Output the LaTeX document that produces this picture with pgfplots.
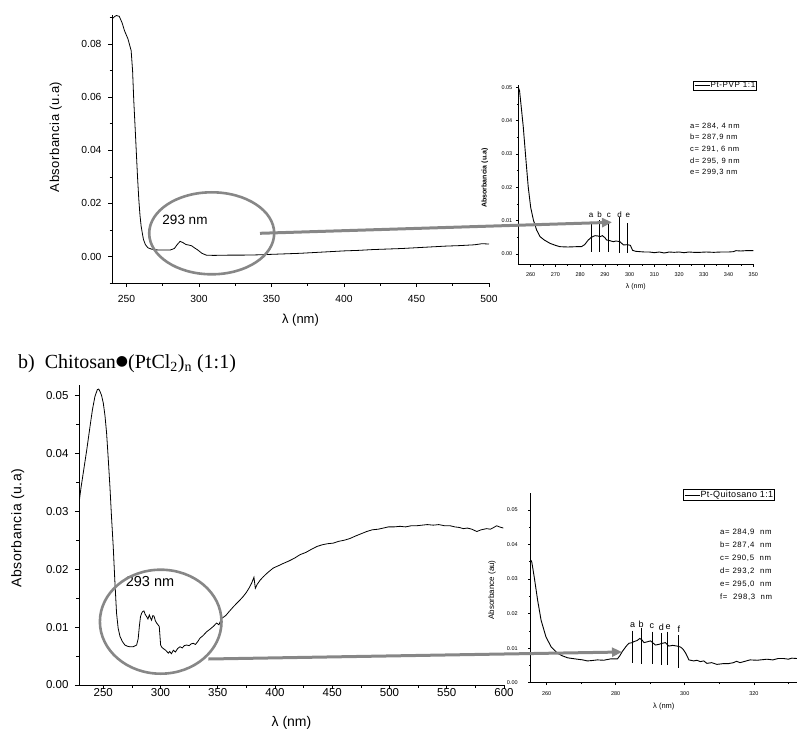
\documentclass[border=0pt]{standalone}
\usepackage{fontspec}
\setmainfont{Liberation Sans}
\newfontfamily\spaced[LetterSpace=4]{Liberation Sans}
\newfontfamily\wide[LetterSpace=8]{Liberation Sans}
\newfontfamily\serifft{Liberation Serif}
\newfontfamily\dejavu{DejaVu Sans}
\usepackage{pgfplots}
\pgfplotsset{compat=1.18}
\usetikzlibrary{arrows.meta}
\definecolor{annot}{RGB}{135,135,135}
\newcommand{\fs}[1]{\fontsize{#1}{#1}\selectfont}

\pgfplotstableread{
x y
240 0.0895
242 0.0905
243 0.0908
245 0.0905
247 0.0880
248.6 0.0851
251 0.0820
253.2 0.0776
254.2 0.0700
255 0.0589
256 0.0480
256.7 0.0401
257.6 0.0300
258.5 0.0214
259.3 0.0155
260.1 0.0114
261 0.0085
261.7 0.0064
263 0.0045
264.7 0.0033
267 0.0028
270 0.0025
275 0.0024
280 0.0024
283 0.0030
285 0.0045
287 0.0057
289 0.0052
291 0.0045
293 0.0043
295 0.0040
297 0.0032
299 0.0025
302 0.0012
305 0.0005
310 0.0004
320 0.0005
330 0.0005
340 0.0006
350 0.0008
360 0.0010
370 0.0012
380 0.0015
390 0.0018
400 0.0021
410 0.0023
420 0.0026
430 0.0028
440 0.0030
450 0.0033
460 0.0036
470 0.0039
480 0.0041
490 0.0044
495 0.0048
500 0.0047
}\pvpmain

\pgfplotstableread{
x y
255 0.0500
255.5 0.0490
256.2 0.0440
257.0 0.0382
258.0 0.0290
259.0 0.0202
260.0 0.0140
261.1 0.0102
262.4 0.0072
263.8 0.0052
265.5 0.0042
267.8 0.0032
270 0.0026
271.8 0.0022
275 0.0021
278.6 0.0022
280.5 0.0022
281.8 0.0028
283.3 0.0042
284.5 0.0050
286 0.0055
287.2 0.0054
288 0.0052
289 0.0055
290 0.0049
290.7 0.0042
292 0.0040
293.4 0.0037
294.5 0.0039
296.1 0.0037
297.5 0.0027
299 0.0028
300.3 0.0026
301.2 0.0011
302.5 0.0008
304.2 0.0007
306 0.0006
308 0.0006
310 0.0004
312 0.0006
314 0.0003
316 0.0006
318 0.0005
320 0.0006
322 0.0004
324 0.0006
326 0.0005
328.4 0.0005
331 0.0006
334 0.0005
337 0.0006
340 0.0006
341.9 0.0007
343 0.0010
345 0.0009
347 0.0010
350 0.0010
}\pvpinset

\pgfplotstableread{
x y
228.8 0.0314
230.5 0.0340
232.5 0.0366
235.5 0.0405
238.4 0.0446
240.5 0.0475
242.7 0.0498
244.8 0.0510
246 0.0511
247.1 0.0507
248.5 0.0500
250 0.0487
251.5 0.0465
252.9 0.0435
254.3 0.0392
255.8 0.0343
257.2 0.0290
258.7 0.0239
260.1 0.0180
261.6 0.0124
263 0.0098
264.6 0.0084
266.7 0.0075
268.9 0.0069
271 0.0067
273.3 0.0066
276 0.0066
279.1 0.0069
280.5 0.0080
281.5 0.0101
282.5 0.0118
283.5 0.0124
284.5 0.0127
285.5 0.0128
286.6 0.0122
287.9 0.0118
289 0.0114
290.2 0.0121
291.2 0.0116
292.2 0.0112
293.3 0.0120
294.3 0.0119
295.5 0.0111
296.6 0.0107
297.8 0.0104
298.9 0.0101
299.5 0.0085
300.1 0.0069
301.2 0.0065
302.4 0.0063
304.5 0.0060
306.8 0.0055
308 0.0058
309.5 0.0054
311.2 0.0060
313 0.0057
315 0.0063
317 0.0066
319 0.0064
320.8 0.0068
322.8 0.0069
325 0.0068
326.8 0.0071
328.6 0.0072
330.5 0.0070
332.5 0.0075
334.5 0.0081
337 0.0085
340.3 0.0092
343 0.0096
346 0.0101
349 0.0107
351 0.0104
353.4 0.0115
357 0.0120
360 0.0127
363.6 0.0135
366.5 0.0141
369.5 0.0147
372.3 0.0153
375 0.0160
377.5 0.0168
379.6 0.0176
381.6 0.0186
382.8 0.0167
384.5 0.0174
387 0.0181
389.8 0.0187
393 0.0193
396 0.0198
398.5 0.0202
403 0.0206
407.3 0.0210
412 0.0214
417 0.0219
421.8 0.0225
427 0.0229
431.5 0.0234
436.4 0.0239
441 0.0242
446 0.0244
450.9 0.0245
455.5 0.0248
460.5 0.0250
465.5 0.0253
470 0.0257
475 0.0261
480 0.0265
485 0.0268
490 0.0269
494.6 0.0271
499 0.0273
504 0.0273
509.2 0.0274
514 0.0273
519 0.0275
523.7 0.0275
528.5 0.0276
533 0.0277
538.3 0.0276
543 0.0277
548 0.0275
552.9 0.0275
557 0.0273
561 0.0272
564.5 0.0270
568 0.0271
572 0.0269
576.2 0.0265
580 0.0268
584.9 0.0270
588 0.0269
591 0.0272
593.6 0.0275
596 0.0273
599.4 0.0271
}\chimain

\pgfplotstableread{
x y
255.4 0.0355
255.7 0.0350
256.4 0.0307
257.4 0.0239
258.4 0.0181
259.8 0.0133
261.3 0.0104
263.2 0.0085
264.5 0.0078
266.1 0.0072
268.9 0.0068
270.5 0.0066
271.8 0.0063
273 0.0064
274.7 0.0066
276.5 0.0065
278.6 0.0069
280.5 0.0069
281.2 0.0078
281.9 0.0090
283 0.0105
283.8 0.0114
284.8 0.0116
285.3 0.0119
286.2 0.0122
287 0.0128
287.6 0.0124
288.2 0.0116
289 0.0118
290.1 0.0121
290.8 0.0115
291.5 0.0109
292.5 0.0111
293.5 0.0114
294.4 0.0116
295.4 0.0106
296.5 0.0108
297.8 0.0106
298.8 0.0103
299.5 0.0097
300.3 0.0085
301.2 0.0066
302.6 0.0063
303.5 0.0065
304.5 0.0061
305.5 0.0063
306.4 0.0056
307.8 0.0058
309.3 0.0053
311 0.0055
312.5 0.0055
314.1 0.0058
315 0.0062
316 0.0058
318.9 0.0066
321 0.0065
323.8 0.0068
325.5 0.0066
327 0.0070
328.6 0.0070
330 0.0068
331 0.0071
332.5 0.0070
}\chiinset

\pgfplotsset{
  spec/.style={
    scale only axis, anchor=south west,
    axis x line*=bottom, axis y line*=left,
    tick align=outside,
    axis line style={black, line width=0.8pt},
    tick style={black, line width=0.7pt},
    major tick length=4pt, minor tick length=2.5pt,
    /pgf/number format/assume math mode=true,
    scaled ticks=false,
    yticklabel style={/pgf/number format/fixed, /pgf/number format/fixed zerofill, /pgf/number format/precision=2},
    xticklabel style={/pgf/number format/fixed, /pgf/number format/precision=0},
  },
  inset/.style={
    major tick length=2.5pt, minor tick length=1.5pt,
    axis line style={black, line width=0.9pt},
    tick style={black, line width=0.6pt},
    legend image code/.code={\draw[black, line width=0.6pt] (0pt,0pt) -- (15pt,0pt);},
    legend style={draw=black, line width=0.8pt, fill=white, inner sep=0.6pt,
      nodes={inner sep=0.6pt}, anchor=center},
  },
}

\begin{document}
\begin{tikzpicture}
\useasboundingbox (0pt,0pt) rectangle (797pt,-730pt);

% ---- top main ----
\begin{axis}[spec, at={(112pt,-283pt)}, width=377pt, height=268pt,
  xmin=240, xmax=500, ymin=-0.01, ymax=0.091,
  xtick={250,300,350,400,450,500}, minor x tick num=1,
  ytick={0,0.02,0.04,0.06,0.08}, minor ytick={-0.01,0.01,0.03,0.05,0.07,0.09},
  ticklabel style={font=\fs{10.3}},
  xticklabel style={yshift=-5pt}, yticklabel style={xshift=-3pt},
  xlabel={λ (nm)}, ylabel={\spaced Absorbancia (u.a)},
  label style={font=\fs{13}},
  xlabel style={at={(axis description cs:0.5,-0.138)}, anchor=center},
  ylabel style={at={(axis description cs:-0.149,0.545)}, anchor=center},
]
\addplot[black, line width=0.8pt] table[x=x,y=y] {\pvpmain};
\end{axis}

% ---- top inset ----
\begin{axis}[spec, inset, at={(518.3pt,-264pt)}, width=235pt, height=179pt,
  xmin=255, xmax=350, ymin=-0.003, ymax=0.0507,
  xtick={260,270,280,290,300,310,320,330,340,350}, minor x tick num=1,
  ytick={0,0.01,0.02,0.03,0.04,0.05}, minor y tick num=1,
  ticklabel style={font=\fs{5.5}},
  xticklabel style={yshift=-2.5pt},
  xlabel={λ (nm)}, ylabel={\bfseries Absorbancia (u.a)},
  xlabel style={font=\fs{7}, at={(axis description cs:0.5,-0.127)}, anchor=center},
  ylabel style={font=\fs{7}, at={(axis description cs:-0.142,0.48)}, anchor=center},
  legend style={at={(0.88,0.996)}, font=\rmfamily\fs{8}},
]
\addplot[black, line width=0.9pt] table[x=x,y=y] {\pvpinset};
\addlegendentry{\wide Pt-PVP 1:1}
\draw[black, line width=0.8pt] (axis cs:284.4,0.0097) -- (axis cs:284.4,0.0007);
\draw[black, line width=0.8pt] (axis cs:287.9,0.0102) -- (axis cs:287.9,0.0007);
\draw[black, line width=0.8pt] (axis cs:291.6,0.0097) -- (axis cs:291.6,0.0007);
\draw[black, line width=0.8pt] (axis cs:295.9,0.0112) -- (axis cs:295.9,0.0002);
\draw[black, line width=0.8pt] (axis cs:299.3,0.0092) -- (axis cs:299.3,0.0004);
\node[font=\fs{8}] at (axis cs:284.4,0.0117) {a};
\node[font=\fs{8}] at (axis cs:287.9,0.0117) {b};
\node[font=\fs{8}] at (axis cs:291.6,0.0117) {c};
\node[font=\fs{8}] at (axis cs:295.9,0.0117) {d};
\node[font=\fs{8}] at (axis cs:299.3,0.0117) {e};
\end{axis}

% ---- bottom main ----
\begin{axis}[spec, at={(79pt,-685pt)}, width=425pt, height=300pt,
  xmin=228.8, xmax=600, ymin=0, ymax=0.0518,
  xtick={250,300,350,400,450,500,550,600}, minor x tick num=1,
  ytick={0,0.01,0.02,0.03,0.04,0.05}, minor y tick num=1,
  ticklabel style={font=\fs{11.5}},
  xticklabel style={yshift=4pt}, yticklabel style={xshift=-3pt},
  xlabel={λ (nm)}, ylabel={\spaced Absorbancia (u.a)},
  label style={font=\fs{14}},
  xlabel style={at={(axis description cs:0.5,-0.127)}, anchor=center},
  ylabel style={at={(axis description cs:-0.144,0.523)}, anchor=center},
]
\addplot[black, line width=0.8pt] table[x=x,y=y] {\chimain};
\end{axis}

% ---- bottom inset ----
\begin{axis}[spec, inset, at={(530.7pt,-682.7pt)}, width=266.3pt, height=189.4pt,
  xmin=255.4, xmax=332.5, ymin=0, ymax=0.0548,
  xtick={260,280,300,320}, minor xtick={270,290,310,330},
  ytick={0,0.01,0.02,0.03,0.04,0.05}, minor y tick num=1,
  ticklabel style={font=\fs{5.5}},
  xticklabel style={yshift=-2.5pt}, yticklabel style={xshift=-7pt},
  xlabel={λ (nm)}, ylabel={Absorbance (au)},
  xlabel style={font=\fs{7.5}, at={(axis description cs:0.5,-0.127)}, anchor=center},
  ylabel style={font=\fs{8}, at={(axis description cs:-0.145,0.49)}, anchor=center},
  legend style={at={(0.745,0.991)}, font=\rmfamily\fs{9}},
]
\addplot[black, line width=0.9pt] table[x=x,y=y] {\chiinset};
\addlegendentry{\spaced Pt-Quitosano 1:1}
\draw[black, line width=0.8pt] (axis cs:284.9,0.0151) -- (axis cs:284.9,0.0056);
\draw[black, line width=0.8pt] (axis cs:287.4,0.0157) -- (axis cs:287.4,0.0054);
\draw[black, line width=0.8pt] (axis cs:290.5,0.0148) -- (axis cs:290.5,0.0054);
\draw[black, line width=0.8pt] (axis cs:293.2,0.0143) -- (axis cs:293.2,0.0051);
\draw[black, line width=0.8pt] (axis cs:295.0,0.0148) -- (axis cs:295.0,0.0051);
\draw[black, line width=0.8pt] (axis cs:298.3,0.0138) -- (axis cs:298.3,0.0042);
\node[font=\fs{9}] at (axis cs:284.9,0.0168) {a};
\node[font=\fs{9}] at (axis cs:287.4,0.0170) {b};
\node[font=\fs{9}] at (axis cs:290.5,0.0165) {c};
\node[font=\fs{9}] at (axis cs:293.2,0.0160) {d};
\node[font=\fs{9}] at (axis cs:295.2,0.0162) {e};
\node[font=\fs{9}] at (axis cs:298.3,0.0155) {f};
\end{axis}

% ---- annotations ----
\node[anchor=base west, inner sep=0] at (18pt,-368pt)
  {\serifft\fs{20}b)\ \ Chitosan{\dejavu\fs{14}\raisebox{2.5pt}{●}}(PtCl\textsubscript{2})\textsubscript{n} (1:1)};

\node[font=\fs{13.5}] at (185pt,-220pt) {293 nm};
\node[font=\fs{14.5}] at (150pt,-581.7pt) {293 nm};

\node[anchor=north west, align=left, inner sep=0, font=\wide\fontsize{7.6}{11.7}\selectfont]
  at (690pt,-122.5pt) {a= 284, 4 nm\\ b= 287,9 nm\\ c= 291, 6 nm\\ d= 295, 9 nm\\ e= 299,3 nm};
\node[anchor=north west, align=left, inner sep=0, font=\wide\fontsize{7.8}{12.9}\selectfont]
  at (720pt,-529pt) {a=\ 284,9\ \ nm\\ b=\ 287,4\ \ nm\\ c=\ 290,5\ \ nm\\ d=\ 293,2\ \ nm\\ e=\ 295,0\ \ nm\\ f=\ \ 298,3\ \ nm};

\draw[annot, line width=2.6pt] (211.7pt,-233.3pt) ellipse [x radius=62.5pt, y radius=41pt];
\draw[annot, line width=2.6pt] (160.7pt,-621.7pt) ellipse [x radius=60.8pt, y radius=52pt];

\draw[annot, line width=3pt, -{Triangle[length=10pt,width=9pt]}] (260pt,-233.3pt) -- (612pt,-222.3pt);
\draw[annot, line width=3pt, -{Triangle[length=10pt,width=9pt]}] (208.3pt,-659pt) -- (622pt,-652pt);
\end{tikzpicture}
\end{document}
